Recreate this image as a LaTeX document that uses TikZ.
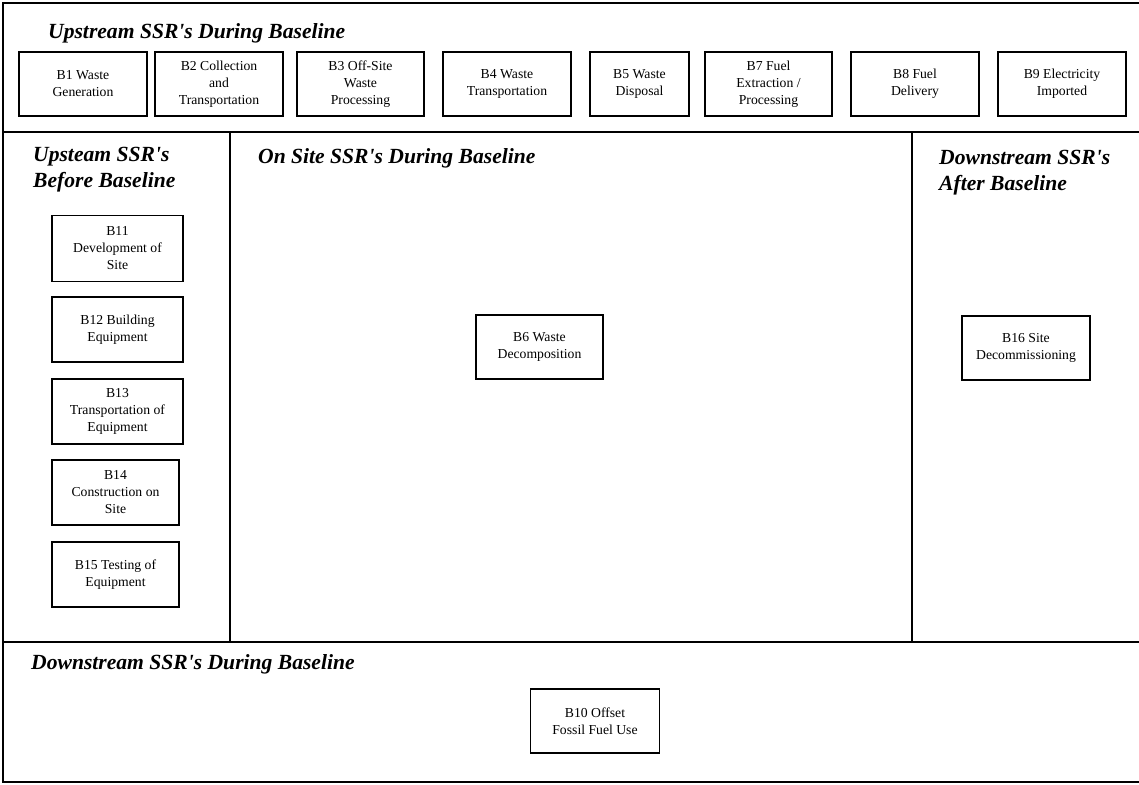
\documentclass[tikz,border=0pt]{standalone}
\usepackage{fontspec}
\setmainfont{Liberation Serif}[Ligatures=TeXOff]
\begin{document}
\begin{tikzpicture}[x=1pt,y=-1pt,
  frame/.style={line width=1.6pt,line cap=rect},
  ssrbox/.style={draw,line width=1.6pt,rectangle,inner sep=0pt,align=center,
    font=\fontsize{13.7}{17}\selectfont,minimum height=64pt},
  heading/.style={anchor=base west,inner sep=0pt,align=left,
    font=\fontsize{21.6}{26}\selectfont\bfseries\itshape}]
\useasboundingbox (0,0) rectangle (1139,784);
% frame
\draw[frame] (1139,3) -- (3,3) -- (3,782) -- (1139,782);
\draw[frame] (3,132) -- (1139,132);
\draw[frame] (3,642) -- (1139,642);
\draw[frame] (230,132) -- (230,642);
\draw[frame] (912,132) -- (912,642);
% headings
\node[heading] (h1) at (48,38) {Upstream SSR's During Baseline};
\node[heading,anchor=north west] (h2) at (33,147) {Upsteam SSR's\\Before Baseline};
\node[heading] (h3) at (258,163) {On Site SSR's During Baseline};
\node[heading,anchor=north west] (h4) at (939,150) {Downstream SSR's\\After Baseline};
\node[heading] (h5) at (31,669) {Downstream SSR's During Baseline};
% top row
\node[ssrbox,minimum width=128pt] (b1) at (83,84) {B1 Waste\\Generation};
\node[ssrbox,minimum width=128pt] (b2) at (219,84) {B2 Collection\\and\\Transportation};
\node[ssrbox,minimum width=127pt] (b3) at (360.5,84) {B3 Off-Site\\Waste\\Processing};
\node[ssrbox,minimum width=128pt] (b4) at (507,84) {B4 Waste\\Transportation};
\node[ssrbox,minimum width=99pt] (b5) at (639.5,84) {B5 Waste\\Disposal};
\node[ssrbox,minimum width=127pt] (b7) at (768.5,84) {B7 Fuel\\Extraction /\\Processing};
\node[ssrbox,minimum width=128pt] (b8) at (915,84) {B8 Fuel\\Delivery};
\node[ssrbox,minimum width=128pt] (b9) at (1062,84) {B9 Electricity\\Imported};
% left column
\node[ssrbox,minimum width=131pt,minimum height=66pt] (b11) at (117.5,248.5) {B11\\Development of\\Site};
\node[ssrbox,minimum width=131pt,minimum height=65pt] (b12) at (117.5,329.5) {B12 Building\\Equipment};
\node[ssrbox,minimum width=131pt,minimum height=65pt] (b13) at (117.5,411.5) {B13\\Transportation of\\Equipment};
\node[ssrbox,minimum width=127pt,minimum height=65pt] (b14) at (115.5,492.5) {B14\\Construction on\\Site};
\node[ssrbox,minimum width=127pt,minimum height=65pt] (b15) at (115.5,574.5) {B15 Testing of\\Equipment};
% on-site, downstream
\node[ssrbox,minimum width=127pt] (b6) at (539.5,347) {B6 Waste\\Decomposition};
\node[ssrbox,minimum width=128pt] (b16) at (1026,348) {B16 Site\\Decommissioning};
\node[ssrbox,minimum width=129pt] (b10) at (595,721) {B10 Offset\\Fossil Fuel Use};
\end{tikzpicture}
\end{document}
